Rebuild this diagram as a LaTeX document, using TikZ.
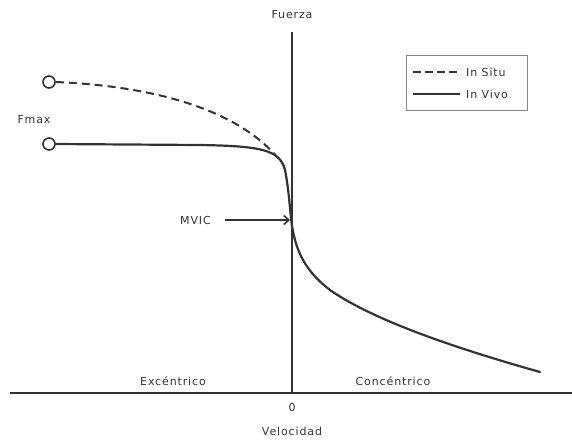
\documentclass[tikz,border=0pt]{standalone}
\usepackage{fontspec}
\setmainfont{DejaVu Sans}[LetterSpace=8]
\usetikzlibrary{arrows.meta}
\definecolor{ink}{HTML}{333333}
\tikzset{
  lbl/.style={font=\fontsize{11}{13}\selectfont, text=ink, inner sep=1pt},
  axisline/.style={draw=ink, line width=2pt},
  curve/.style={draw=ink, line width=2.2pt, line cap=round},
  dcurve/.style={draw=ink, line width=2pt, dash pattern=on 8pt off 5pt},
  endcirc/.style={circle, draw=ink, line width=1.6pt, minimum size=12pt, inner sep=0pt, fill=white},
}
\begin{document}
\begin{tikzpicture}[x=1pt,y=-1pt]
\useasboundingbox (0,0) rectangle (572,440);
% axes
\coordinate (yt) at (292,32);
\coordinate (yb) at (292,393);
\coordinate (xl) at (10,393);
\coordinate (xr) at (572,393);
\draw[axisline] (yt) -- (yb);
\draw[axisline] (xl) -- (xr);
\node[lbl] (fu) at (292,15) {Fuerza};
\node[lbl] (zero) at (292,407) {0};
\node[lbl] (vel) at (292,431) {Velocidad};
\node[lbl] (exc) at (173,381) {Excéntrico};
\node[lbl] (con) at (393,381) {Concéntrico};
% curves
\node[endcirc] (c1) at (49,82) {};
\node[endcirc] (c2) at (49,144) {};
\draw[dcurve] (c1.east) .. controls (150,86) and (240,108) .. (282,163);
\draw[curve] (c2.east) -- (200,145) .. controls (262,146) and (280,150) .. (285,170)
  .. controls (289,190) and (290,212) .. (292,226)
  .. controls (296,250) and (304,270) .. (330,290)
  .. controls (380,325) and (480,355) .. (540,372);
\node[lbl] (fmax) at (34,120) {Fmax};
% MVIC
\node[lbl, anchor=east] (mvic) at (212,220) {MVIC};
\coordinate (mv) at (290,220);
\draw[draw=ink, line width=1.6pt, -{Straight Barb[length=5pt,width=9pt]}] (225,220) -- (mv);
% legend
\node[draw=ink!60, line width=0.8pt, minimum width=121pt, minimum height=55pt, inner sep=0pt] (leg) at (466.5,82.5) {};
\coordinate (l1a) at (413,72);
\coordinate (l1b) at (460,72);
\coordinate (l2a) at (413,94);
\coordinate (l2b) at (460,94);
\draw[draw=ink, line width=2pt, dash pattern=on 8pt off 4pt] (l1a) -- (l1b);
\draw[draw=ink, line width=2pt] (l2a) -- (l2b);
\node[lbl, anchor=west] (ls) at (465,72) {In Situ};
\node[lbl, anchor=west] (lv) at (465,94) {In Vivo};
\end{tikzpicture}
\end{document}
